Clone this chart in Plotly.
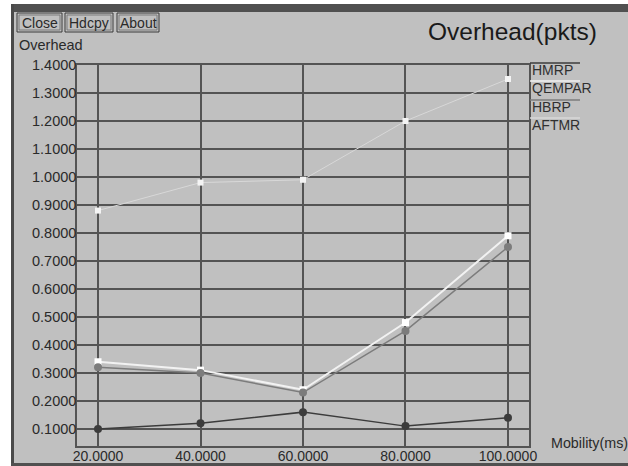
import plotly.graph_objects as go

# Mobility (ms) on x, overhead (pkts) on y
mobility = [20, 40, 60, 80, 100]
hmrp = [0.10, 0.12, 0.16, 0.11, 0.14]
qempar = [0.34, 0.31, 0.24, 0.48, 0.79]
hbrp = [0.32, 0.30, 0.23, 0.45, 0.75]
aftmr = [0.88, 0.98, 0.99, 1.20, 1.35]

x_ticks = [20, 40, 60, 80, 100]
x_tick_labels = ["20.0000", "40.0000", "60.0000", "80.0000", "100.0000"]
y_ticks = [0.1, 0.2, 0.3, 0.4, 0.5, 0.6, 0.7, 0.8, 0.9, 1.0, 1.1, 1.2, 1.3, 1.4]

W, H = 628, 466
L, R, T, B = 77, 529, 65, 446
BG = "#c0c0c0"
GRID = "#545454"
TXT = "#2a2a2a"
FONT = "Liberation Sans, Arial, sans-serif"


def px(x):
    return (x - L) / (R - L)


def py(y):
    return (B - y) / (B - T)


series = [
    ("HMRP", hmrp, "#3c3c3c", "circle", 8, 1.5, "#3c3c3c"),
    ("QEMPAR", qempar, "#f2f2f2", "square", 7, 2, "#ffffff"),
    ("HBRP", hbrp, "#7c7c7c", "circle", 8, 1.5, "#7c7c7c"),
    ("AFTMR", aftmr, "#d8d8d8", "square", 6, 1, "#f4f4f4"),
]

fig = go.Figure()
for name, vals, lc, sym, ms, lw, mc in series:
    fig.add_trace(go.Scatter(
        x=mobility, y=vals, name=name, mode="lines+markers",
        line=dict(color=lc, width=lw),
        marker=dict(symbol=sym, size=ms, color=mc, line=dict(width=0)),
        showlegend=False,
    ))

shapes = [
    # window chrome
    dict(type="rect", xref="paper", yref="paper", x0=px(0), x1=px(W), y0=py(0), y1=py(4),
         fillcolor="#ffffff", line=dict(width=0), layer="below"),
    dict(type="rect", xref="paper", yref="paper", x0=px(0), x1=px(11), y0=py(0), y1=py(H),
         fillcolor="#ffffff", line=dict(width=0), layer="below"),
    dict(type="rect", xref="paper", yref="paper", x0=px(11), x1=px(W), y0=py(4), y1=py(12),
         fillcolor="#505050", line=dict(width=0), layer="below"),
    dict(type="rect", xref="paper", yref="paper", x0=px(11), x1=px(14), y0=py(4), y1=py(H),
         fillcolor="#4a4a4a", line=dict(width=0), layer="below"),
    dict(type="rect", xref="paper", yref="paper", x0=px(11), x1=px(W), y0=py(463), y1=py(H),
         fillcolor="#505050", line=dict(width=0), layer="below"),
]

annotations = []
# buttons
for label, x0, x1 in [("Close", 17, 62), ("Hdcpy", 65, 113), ("About", 117, 159)]:
    shapes.append(dict(type="rect", xref="paper", yref="paper",
                       x0=px(x0), x1=px(x1), y0=py(13), y1=py(32),
                       line=dict(color="#3a3a3a", width=1), fillcolor=BG))
    shapes.append(dict(type="rect", xref="paper", yref="paper",
                       x0=px(x0 + 2), x1=px(x1 - 2), y0=py(15), y1=py(30),
                       line=dict(color="#7a7a7a", width=1)))
    annotations.append(dict(text=label, xref="paper", yref="paper",
                            x=px((x0 + x1) / 2), y=py(22.5), showarrow=False,
                            xanchor="center", yanchor="middle",
                            font=dict(family=FONT, size=14, color=TXT)))

# legend: label with a line sample above it
legend_y = [70, 88, 107, 125]
for (name, vals, lc, sym, ms, lw, mc), ly in zip(series, legend_y):
    shapes.append(dict(type="line", xref="paper", yref="paper",
                       x0=px(530), x1=px(580), y0=py(ly - 7), y1=py(ly - 7),
                       line=dict(color=lc, width=1.5)))
    annotations.append(dict(text=name, xref="paper", yref="paper",
                            x=px(530), y=py(ly), showarrow=False,
                            xanchor="left", yanchor="middle",
                            font=dict(family=FONT, size=14, color="#303030")))

annotations += [
    dict(text="Overhead(pkts)", xref="paper", yref="paper", x=px(599), y=py(31),
         showarrow=False, xanchor="right", yanchor="middle",
         font=dict(family=FONT, size=24.5, color="#1a1a1a")),
    dict(text="Overhead", xref="paper", yref="paper", x=px(17), y=py(45),
         showarrow=False, xanchor="left", yanchor="middle",
         font=dict(family=FONT, size=14.5, color=TXT)),
    dict(text="Mobility(ms)", xref="paper", yref="paper", x=px(549), y=py(443),
         showarrow=False, xanchor="left", yanchor="middle",
         font=dict(family=FONT, size=14.3, color=TXT)),
]

fig.update_layout(
    width=W, height=H,
    margin=dict(l=L, r=W - R, t=T, b=H - B, pad=0, autoexpand=False),
    paper_bgcolor=BG, plot_bgcolor=BG,
    shapes=shapes, annotations=annotations,
    font=dict(family=FONT, size=14, color=TXT),
)
fig.update_xaxes(
    range=[15.9, 104.1], tickvals=x_ticks, ticktext=x_tick_labels,
    showgrid=True, gridcolor=GRID, gridwidth=1.5, zeroline=False,
    showline=True, linecolor=GRID, linewidth=1.5, mirror=True,
    ticks="", automargin=False, ticklabelstandoff=-4,
    tickfont=dict(family=FONT, size=14, color=TXT),
)
fig.update_yaxes(
    range=[0.039, 1.4], tickvals=y_ticks, tickformat=".4f",
    showgrid=True, gridcolor=GRID, gridwidth=1.5, zeroline=False,
    showline=True, linecolor=GRID, linewidth=1.5, mirror=True,
    ticks="", automargin=False, ticklabelstandoff=-4,
    tickfont=dict(family=FONT, size=14.5, color=TXT),
)

fig.write_html("out.html")
